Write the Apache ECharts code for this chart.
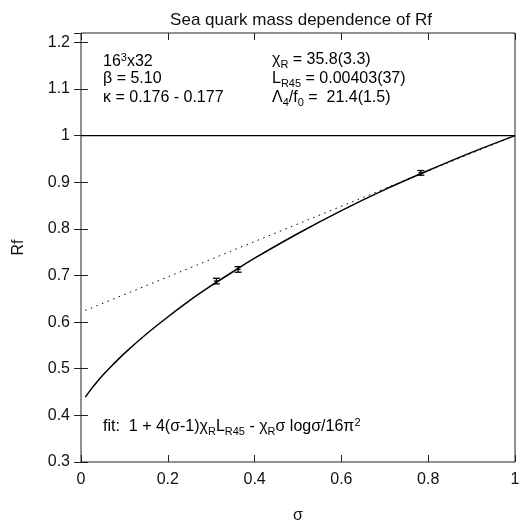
<!DOCTYPE html>
<html>
<head>
<meta charset="utf-8">
<script src="https://cdn.jsdelivr.net/npm/echarts@6/dist/echarts.min.js"></script>
<style>html,body{margin:0;padding:0;background:#fff;}#c{width:528px;height:529px;}</style>
</head>
<body>
<div id="c"></div>
<script>
// ---- data ----
const titleText = 'Sea quark mass dependence of Rf';
const xName = 'σ';
const yName = 'Rf';
const xTicks = [0, 0.2, 0.4, 0.6, 0.8, 1];
const yTicks = [0.3, 0.4, 0.5, 0.6, 0.7, 0.8, 0.9, 1.0, 1.1, 1.2];
// data points with error bars
const ptSigma = [0.312, 0.362, 0.783];
const ptRf    = [0.688, 0.713, 0.920];
const ptErr   = [0.006, 0.006, 0.005];
// solid fit curve
const curveSigma = [0.01, 0.02, 0.03, 0.05, 0.075, 0.1, 0.15, 0.2, 0.25, 0.3, 0.35, 0.4, 0.5, 0.6, 0.7, 0.8, 0.9, 1.0];
const curveRf    = [0.439, 0.452, 0.464, 0.486, 0.510, 0.533, 0.574, 0.611, 0.646, 0.678, 0.708, 0.737, 0.790, 0.839, 0.884, 0.925, 0.964, 1.0];
// dotted linear line
const dotSigma = [0.01, 1.0];
const dotRf    = [0.625, 1.0];
// horizontal reference line at Rf = 1
const refSigma = [0, 1];
const refRf    = [1, 1];
// annotation texts
const leftNotes  = ['{a|16}{sup|3}{a|x32}', '{a|β = 5.10}', '{a|κ = 0.176 - 0.177}'];
const rightNotes = ['{a|χ}{sub|R}{a| = 35.8(3.3)}', '{a|L}{sub|R45}{a| = 0.00403(37)}', '{a|Λ}{sub|4}{a|/f}{sub|0}{a| =  21.4(1.5)}'];
const fitNote = '{a|fit:  1 + 4(σ-1)χ}{sub|R}{a|L}{sub|R45}{a| - χ}{sub|R}{a|σ logσ/16π}{sup|2}';

// ---- chart ----
const FONT = 'Liberation Sans, Arial, sans-serif';
const zip = (a, b) => a.map((v, i) => [v, b[i]]);
const errData = ptSigma.map((s, i) => [s, ptRf[i], ptRf[i] - ptErr[i], ptRf[i] + ptErr[i]]);
const rich = {
  a: {fontSize: 16, fontFamily: FONT, color: '#111', lineHeight: 20},
  sub: {fontSize: 11, fontFamily: FONT, color: '#111', lineHeight: 11, verticalAlign: 'bottom'},
  sup: {fontSize: 11, fontFamily: FONT, color: '#111', lineHeight: 9, verticalAlign: 'top'}
};
const lineTops = [52, 71, 90];
const graphics = [];
leftNotes.forEach((t, i) => graphics.push({type: 'text', left: 103, top: lineTops[i], style: {text: t, rich: rich}}));
rightNotes.forEach((t, i) => graphics.push({type: 'text', left: 272, top: lineTops[i], style: {text: t, rich: rich}}));
graphics.push({type: 'text', left: 103, top: 417, style: {text: fitNote, rich: rich}});

const tickStyle = {show: true, inside: true, length: 7, lineStyle: {color: '#222', width: 1}};
const chart = echarts.init(document.getElementById('c'), null, {renderer: 'canvas'});
chart.setOption({
  animation: false,
  backgroundColor: '#fff',
  title: {text: titleText, left: 296, top: 7, textAlign: 'center',
    textStyle: {fontFamily: FONT, fontSize: 17, fontWeight: 'normal', color: '#111'}},
  grid: {left: 81, right: 13, top: 33, bottom: 59, show: true, borderColor: '#222', borderWidth: 1, backgroundColor: 'transparent'},
  xAxis: [
    {type: 'value', min: xTicks[0], max: xTicks[xTicks.length - 1], interval: 0.2, position: 'bottom',
      name: xName, nameLocation: 'middle', nameGap: 46,
      nameTextStyle: {fontFamily: FONT, fontSize: 16, color: '#111'},
      axisLine: {show: false}, axisTick: tickStyle, splitLine: {show: false},
      axisLabel: {fontFamily: FONT, fontSize: 16, color: '#111', margin: 10}},
    {type: 'value', min: 0, max: 1, interval: 0.2, position: 'top',
      axisLine: {show: false}, axisTick: tickStyle, splitLine: {show: false}, axisLabel: {show: false}}
  ],
  yAxis: [
    {type: 'value', min: yTicks[0], max: 1.22, interval: 0.1, position: 'left',
      name: yName, nameLocation: 'middle', nameGap: 54, nameRotate: 90,
      nameTextStyle: {fontFamily: FONT, fontSize: 16, color: '#111'},
      axisLine: {show: false}, axisTick: tickStyle, splitLine: {show: false},
      axisLabel: {fontFamily: FONT, fontSize: 16, color: '#111', margin: 11, showMaxLabel: false,
        formatter: v => (yTicks.some(t => Math.abs(t - v) < 1e-6) ? String(+v.toFixed(1)) : '')}},
    {type: 'value', min: yTicks[0], max: 1.22, interval: 0.1, position: 'right',
      axisLine: {show: false}, axisTick: tickStyle, splitLine: {show: false}, axisLabel: {show: false}}
  ],
  series: [
    {type: 'line', data: zip(refSigma, refRf), showSymbol: false, lineStyle: {color: '#000', width: 1.2}},
    {type: 'line', data: zip(dotSigma, dotRf), showSymbol: false, lineStyle: {color: '#000', width: 1, type: [1.5, 4.5]}},
    {type: 'line', data: zip(curveSigma, curveRf), showSymbol: false, smooth: 0.3, lineStyle: {color: '#000', width: 1.5}},
    {type: 'custom', data: errData,
      renderItem: function (params, api) {
        const x = api.value(0), y = api.value(1), lo = api.value(2), hi = api.value(3);
        const pLo = api.coord([x, lo]), pHi = api.coord([x, hi]), pc = api.coord([x, y]);
        const w = 3.5, st = {stroke: '#000', lineWidth: 1.3};
        return {type: 'group', children: [
          {type: 'line', shape: {x1: pLo[0], y1: pLo[1], x2: pHi[0], y2: pHi[1]}, style: st},
          {type: 'line', shape: {x1: pLo[0] - w, y1: pLo[1], x2: pLo[0] + w, y2: pLo[1]}, style: st},
          {type: 'line', shape: {x1: pHi[0] - w, y1: pHi[1], x2: pHi[0] + w, y2: pHi[1]}, style: st},
          {type: 'line', shape: {x1: pc[0] - 2.5, y1: pc[1], x2: pc[0] + 2.5, y2: pc[1]}, style: st}
        ]};
      }}
  ],
  graphic: graphics
});
</script>
</body>
</html>
